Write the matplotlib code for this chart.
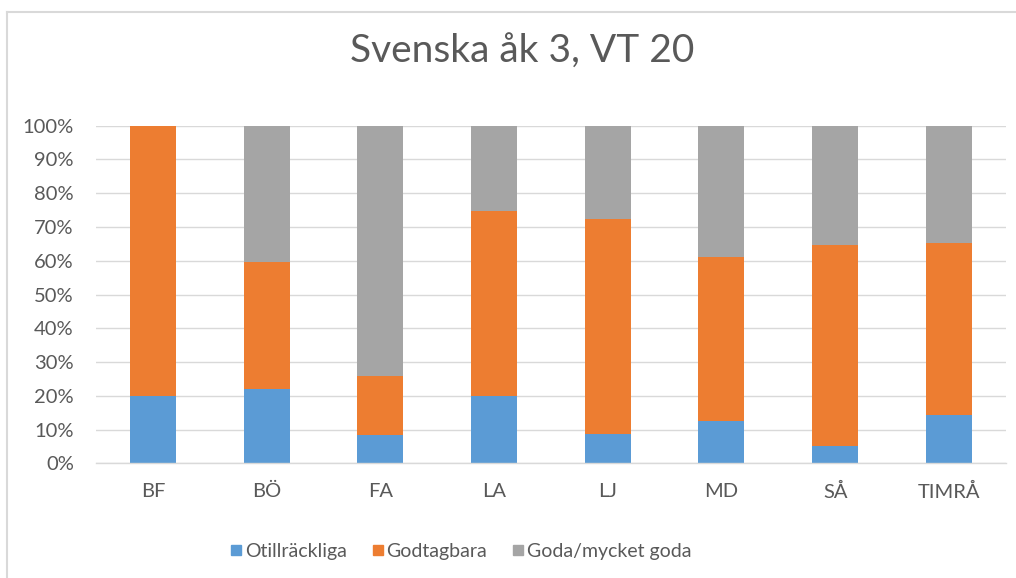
import numpy as np
import matplotlib.pyplot as plt
from matplotlib.lines import Line2D

# --- DATA (percent of students per school) ---
SKOLOR = ['BF', 'BÖ', 'FA', 'LA', 'LJ', 'MD', 'SÅ', 'TIMRÅ']
OTILLRACKLIGA = [20.0, 22.0, 8.4, 20.0, 8.8, 12.5, 5.2, 14.3]
GODTAGBARA = [80.0, 37.7, 17.6, 54.8, 63.6, 48.6, 59.5, 51.0]
GODA = [0.0, 40.3, 74.0, 25.2, 27.6, 38.9, 35.3, 34.7]
SERIE_NAMN = ['Otillräckliga', 'Godtagbara', 'Goda/mycket goda']
Y_TICKS = [0, 10, 20, 30, 40, 50, 60, 70, 80, 90, 100]

TITEL = 'Svenska åk 3, VT 20'

# --- STYLE ---
FARGER = ['#5B9BD5', '#ED7D31', '#A5A5A5']
TEXT_FARG = '#595959'
GRID_FARG = '#D9D9D9'
BAR_WIDTH = 0.405
FONT = ['Lato', 'DejaVu Sans']


def rita():
    plt.rcParams['font.family'] = FONT
    fig = plt.figure(figsize=(10.16, 5.78), dpi=100)
    ax = fig.add_axes([0.0945, 0.1984, 0.8954, 0.5841])

    x = np.arange(len(SKOLOR))
    serier = [OTILLRACKLIGA, GODTAGBARA, GODA]
    botten = np.zeros(len(SKOLOR))
    for varden, farg, namn in zip(serier, FARGER, SERIE_NAMN):
        varden = np.array(varden) / 100.0
        ax.bar(x, varden, BAR_WIDTH, bottom=botten, color=farg, label=namn,
               zorder=3, linewidth=0)
        botten += varden

    ax.set_xlim(-0.5, len(SKOLOR) - 0.5)
    ax.set_ylim(0, 1.0)
    ax.set_yticks([t / 100 for t in Y_TICKS])
    ax.set_yticklabels([f'{t}%' for t in Y_TICKS])
    ax.set_xticks(x)
    ax.set_xticklabels(SKOLOR)

    ax.yaxis.grid(True, color=GRID_FARG, linewidth=1.0, zorder=0)
    ax.set_axisbelow(True)
    for s in ['top', 'right', 'left']:
        ax.spines[s].set_visible(False)
    ax.spines['bottom'].set_color(GRID_FARG)
    ax.spines['bottom'].set_linewidth(1.0)
    ax.spines['bottom'].set_zorder(4)

    ax.tick_params(axis='both', length=0, labelsize=14.5, labelcolor=TEXT_FARG)
    ax.tick_params(axis='y', pad=16)
    ax.tick_params(axis='x', pad=14)

    fig.text(522 / 1016, 1 - 63 / 578, TITEL, ha='center', va='baseline',
             fontsize=28, color=TEXT_FARG)

    handles = [Line2D([], [], marker='s', linestyle='none', markersize=7.5,
                      markerfacecolor=f, markeredgecolor=f) for f in FARGER]
    fig.legend(handles, SERIE_NAMN, loc='center', ncol=3, frameon=False,
               bbox_to_anchor=(460 / 1016, 1 - 551 / 578), fontsize=14,
               labelcolor=TEXT_FARG, handletextpad=0.05, columnspacing=1.2,
               handlelength=0.8)

    # chart border (left and top edges visible in the crop)
    fig.add_artist(Line2D([6.5 / 1016, 6.5 / 1016], [0, 1 - 11.5 / 578],
                          color=GRID_FARG, linewidth=1.5,
                          transform=fig.transFigure))
    fig.add_artist(Line2D([6.5 / 1016, 1], [1 - 11.5 / 578, 1 - 11.5 / 578],
                          color=GRID_FARG, linewidth=1.5,
                          transform=fig.transFigure))

    plt.savefig('out.png', dpi=100)


if __name__ == '__main__':
    rita()
